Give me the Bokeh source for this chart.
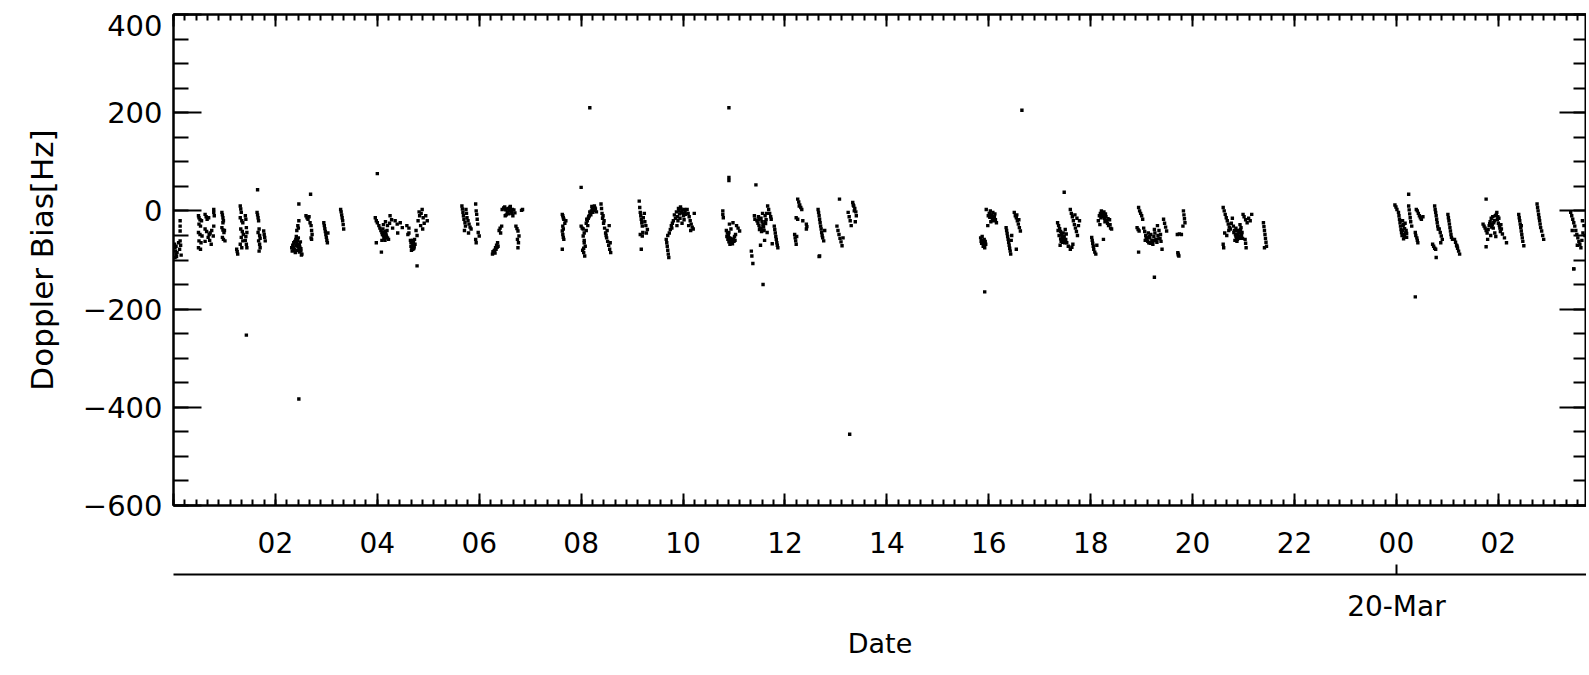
import numpy as np
from bokeh.plotting import figure
from bokeh.models import LinearAxis, FixedTicker, Range1d, ColumnDataSource
from bokeh.embed import file_html
from bokeh.resources import INLINE

# ---------------- data: hours since 19-Mar 00:00, Doppler bias [Hz] ----------------
a0_t = [0.02,0.03,0.04,0.05,0.06,0.03,0.05,0.07,0.13,0.13,0.13,0.13,0.14,0.12,0.15,0.10]
a0_v = [-68,-75,-82,-88,-93,-95,-72,-85,-20,-31,-41,-61,-70,-78,-90,-65]
a1_t = [0.49,0.50,0.52,0.55,0.50,0.53,0.49,0.52,0.56,0.50,0.54,0.49,0.53,
        0.62,0.64,0.66,0.69,0.62,0.65,0.70,0.72,0.68,0.71,0.74,0.62,0.75,
        0.79,0.79,0.80,0.79,0.78]
a1_v = [-10,-14,-18,-20,-27,-31,-44,-48,-51,-61,-65,-75,-78,
        -7,-12,-17,-14,-37,-42,-48,-45,-54,-60,-68,-62,-40,
        3,-3,-10,-31,-51]
a2_t = [0.95,0.96,0.97,0.98,0.95,0.97,0.99,1.00,0.96,0.98,1.01,0.97]
a2_v = [-3,-8,-14,-20,-34,-39,-44,-40,-54,-58,-61,-24]
a3_t = [1.31,1.32,1.33,1.31,1.34,1.36,1.32,1.35,1.37,1.33,1.36,1.31,1.34,1.24,1.25,1.26,
        1.41,1.42,1.43,1.44,1.42,1.41,1.43,1.44]
a3_v = [10,4,-3,-14,-20,-24,-37,-42,-48,-54,-61,-68,-75,-78,-83,-88,
        -10,-17,-34,-44,-52,-60,-68,-75]
a4_t = [1.64,1.65,1.66,1.67,1.68,1.66,1.69,1.70,1.67,1.69,1.70,1.68,1.77,1.78,1.79,1.80]
a4_v = [-3,-8,-14,-20,-37,-44,-50,-56,-61,-68,-75,-82,-41,-48,-54,-61]
a5_t = [2.32,2.34,2.36,2.38,2.40,2.42,2.44,2.46,2.48,2.50,2.52,2.35,2.39,2.43,2.47,2.51,2.37,
        2.41,2.45,2.49,2.42,2.44,2.46,2.45,2.60,2.62,2.64,2.66,2.68,2.70,2.71,2.72,2.70,2.71,
        2.33,2.36,2.40,2.43,2.47,2.50]
a5_v = [-75,-70,-65,-62,-58,-66,-72,-78,-74,-82,-88,-80,-85,-60,-68,-90,-78,
        -52,-55,-63,-40,-30,-20,-35,-10,-14,-17,-12,-24,-30,-40,-48,-55,-58,
        -82,-76,-70,-80,-84,-77]
a6_t = [2.95,2.96,2.97,2.98,2.99,3.00,3.01,3.02,3.03]
a6_v = [-24,-30,-36,-42,-48,-54,-60,-65,-45]
a7_t = [3.28,3.29,3.30,3.31,3.32,3.33,3.34]
a7_v = [3,-2,-8,-14,-20,-28,-37]
a8_t = [3.96,3.98,4.00,4.03,4.05,4.07,4.09,4.10,4.12,4.14,4.16,4.18,4.20,4.22,4.11,4.13,4.15,
        4.17,4.19,4.08,4.12,4.16,4.20,4.24,4.28,4.30,4.35,4.39,4.40,4.45,4.49,4.09,4.25,3.98,
        4.11,4.14,4.17,4.13]
a8_v = [-14,-20,-24,-30,-35,-40,-44,-48,-50,-46,-42,-52,-55,-58,-37,-54,-60,
        -48,-40,-84,-28,-22,-30,-25,-18,-35,-20,-27,-45,-24,-34,-60,-10,-65,
        -44,-57,-51,-47]
a9_t = [4.58,4.62,4.65,4.68,4.70,4.72,4.66,4.69,4.71,4.74,4.67,4.73,4.62,4.76,4.80,4.83,4.86,
        4.88,4.90,4.92,4.85,4.89,4.95,4.98,4.82,4.78,4.60,4.66,4.68,4.70,4.72,4.69,4.71]
a9_v = [-30,-45,-60,-65,-70,-75,-72,-78,-62,-68,-80,-58,-35,-40,-20,-10,-5,
        3,-14,-25,-30,-37,-10,-20,-2,-50,-48,-64,-74,-66,-72,-60,-77]
a10_t = [5.66,5.67,5.68,5.69,5.70,5.72,5.74,5.75,5.76,5.78,5.80,5.82,5.84,5.79,5.93,5.94,5.95,
         5.96,5.97,5.98,5.93,5.94,6.00,5.73,5.71]
a10_v = [10,4,-3,-10,-17,-24,3,-5,-14,-20,-27,-33,-37,-45,14,0,-7,
         -17,-27,-44,-58,-65,-51,-31,-40]

b1_t = [6.26,6.28,6.30,6.32,6.34,6.36,6.29,6.33,6.37,6.39,6.41,6.44,6.45,6.48,6.50,6.52,6.55,
        6.57,6.60,6.62,6.64,6.66,6.68,6.70,6.53,6.58,6.63,6.51,6.72,6.74,6.76,6.78,6.75,6.77,
        6.76,6.85,6.83,6.42,6.27,6.31,6.35,6.54,6.59,6.61,6.65]
b1_v = [-88,-85,-80,-75,-70,-65,-82,-78,-72,-40,-35,-31,3,6,8,2,-3,
        5,7,0,-5,-10,2,-4,-8,-6,-2,-10,-31,-36,-41,-51,-58,-65,
        -75,3,1,-45,-83,-86,-74,4,1,9,3]
b2_t = [7.63,7.64,7.65,7.66,7.64,7.65,7.63,7.64,7.65,7.66,7.70,7.68,7.63]
b2_v = [-7,-10,-14,-17,-31,-37,-41,-48,-54,-58,-20,-25,-78]
b3_t = [8.00,8.02,8.04,8.06,8.08,8.03,8.05,8.07,8.04,8.06,8.10,8.12,8.14,8.16,8.18,8.20,8.22,
        8.24,8.26,8.28,8.30,8.15,8.19,8.23,8.27,8.11,8.13,8.06,8.10,8.39,8.40,8.41,8.42,8.44,
        8.46,8.48,8.50,8.52,8.54,8.56,8.58,8.45,8.51,8.57,8.43,8.49,8.55,8.17,8.21,8.25,8.05]
b3_v = [-31,-35,-37,-65,-72,-80,-85,-92,-51,-45,-25,-20,-15,-10,-5,0,5,
        8,10,4,-2,-12,-8,-3,6,-17,-30,-60,-40,14,5,-5,-15,-25,
        -35,-45,-55,-62,-70,-78,-85,-20,-40,-65,-10,-50,-30,-2,9,1,-76]
b4_t = [9.14,9.15,9.16,9.17,9.18,9.19,9.20,9.21,9.16,9.20,9.22,9.25,9.27,9.30,9.28,9.24,9.18]
b4_v = [20,7,-3,-10,-17,-24,-31,-44,-48,-51,-14,-22,-30,-38,-45,-5,-78]
b5_t = [9.67,9.68,9.69,9.70,9.71,9.72,9.70,9.73,9.75,9.77,9.79,9.81,9.78,9.83,9.85,9.87,9.89,
        9.91,9.93,9.95,9.97,9.99,10.01,10.03,10.05,9.90,9.94,9.98,10.02,10.08,10.10,10.12,
        10.14,10.16,10.18,10.20,10.22,10.11,10.15,9.88,9.92,9.96,10.00,10.04]
b5_v = [-58,-65,-72,-80,-88,-95,-50,-45,-38,-30,-25,-20,-35,-8,-15,-2,-12,
        5,-6,8,-3,2,-10,3,-7,-20,-15,-25,-18,3,-5,-12,
        -20,-27,-33,-37,-5,-30,-40,-30,0,4,-5,-1]
b6_t = [10.78,10.78,10.79,10.85,10.87,10.89,10.91,10.93,10.95,10.97,10.99,11.01,11.03,10.88,
        10.92,10.96,11.00,10.90,10.98,11.05,11.08,11.11,10.91,10.94,10.86,10.90,10.94,10.97,11.02]
b6_v = [0,-7,-14,-40,-45,-50,-55,-60,-65,-62,-58,-52,-48,-58,
        -68,-66,-62,-44,-24,-30,-35,-41,-27,-37,-52,-63,-56,-67,-60]
b7_t = [11.34,11.35,11.37,11.40,11.41,11.45,11.47,11.49,11.51,11.53,11.55,11.57,11.59,11.61,
        11.63,11.65,11.50,11.54,11.58,11.62,11.48,11.56,11.64,11.66,11.68,11.70,11.72,11.73,
        11.79,11.80,11.81,11.82,11.83,11.84,11.85,11.86,11.60,11.75,11.52,11.49,11.53,11.57,
        11.61,11.55]
b7_v = [-82,-92,-107,-10,-17,-20,-25,-30,-35,-15,-22,-28,-40,-10,
        -18,-44,-38,-42,-33,-26,-12,-5,-5,10,3,-5,-12,-17,
        -31,-38,-45,-52,-58,-65,-70,-75,-60,-67,-70,-18,-36,-31,-22,-40]
b8_t = [12.25,12.27,12.29,12.31,12.33,12.28,12.22,12.25,12.42,12.43,12.42,12.19,12.20,12.21,
        12.22,12.23,12.35]
b8_v = [24,18,12,7,3,10,-14,-17,-27,-32,-37,-48,-55,-61,-68,-52,-20]
b9_t = [12.65,12.66,12.67,12.68,12.69,12.70,12.71,12.72,12.73,12.74,12.76,12.78,12.68]
b9_v = [3,-3,-10,-17,-24,-31,-37,-44,-50,-55,-61,-40,-92]
b10_t = [13.07,13.33,13.35,13.37,13.39,13.40,13.36,13.34,13.02,13.04,13.06,13.08,13.10,13.12,
         13.14,13.24,13.26,13.28,13.30,13.38]
b10_v = [24,17,10,5,-2,-10,0,12,-31,-40,-48,-56,-63,-71,-55,-3,-12,-20,-30,-22]

c1_t = [15.84,15.86,15.88,15.90,15.92,15.94,15.87,15.91,15.85,15.95,15.99,16.01,16.03,16.05,
        16.07,16.09,16.11,16.13,16.15,16.04,16.08,16.12,15.98,15.86,15.89,15.93,16.02,16.06,
        16.10]
c1_v = [-55,-60,-65,-70,-75,-68,-52,-58,-62,3,-10,-5,0,-8,
        -15,-20,-12,-18,-24,-22,-3,-6,-30,-66,-72,-62,-13,-11,-16]
c2_t = [16.34,16.35,16.36,16.37,16.38,16.39,16.40,16.41,16.42,16.43,16.44,16.50,16.52,16.54,
        16.56,16.58,16.60,16.62,16.55,16.59,16.54,16.45]
c2_v = [-34,-40,-46,-52,-58,-64,-70,-76,-82,-88,-60,-3,-10,-14,
        -20,-27,-34,-41,-8,-18,-78,-50]
c3_t = [17.35,17.37,17.39,17.41,17.43,17.45,17.47,17.49,17.51,17.38,17.42,17.46,17.50,17.53,
        17.56,17.60,17.63,17.65,17.60,17.62,17.64,17.66,17.68,17.70,17.72,17.74,17.76,17.78,
        17.69,17.73,17.40,17.44,17.36,17.41,17.45,17.48,17.52]
c3_v = [-24,-30,-36,-42,-48,-54,-60,-65,-58,-50,-62,-45,-38,-65,
        -72,-78,-74,-68,3,-5,-12,-20,-28,-35,-42,-50,-30,-20,
        -8,-15,-70,-55,-40,-57,-64,-52,-47]
c4_t = [18.02,18.03,18.04,18.05,18.06,18.08,18.10,18.12,18.15,18.17,18.19,18.21,18.23,18.25,
        18.27,18.29,18.31,18.33,18.35,18.37,18.39,18.41,18.20,18.24,18.28,18.25,18.18,18.22,
        18.26,18.30,18.34,18.38]
c4_v = [-54,-60,-66,-72,-78,-84,-88,-70,-20,-10,-5,0,-8,-12,
        -15,-6,-20,-25,-30,-18,-35,-37,-14,-4,-22,-58,-28,-9,-2,-12,-16,-28]
c5_t = [18.94,18.96,18.98,19.00,19.02,18.91,18.93,18.95,19.04,19.06,19.08,19.10,19.12,19.14,
        19.16,19.18,19.20,19.22,19.24,19.26,19.28,19.30,19.32,19.34,19.36,19.38,19.07,19.13,
        19.19,19.25,19.31,19.37,19.43,19.45,19.47,19.49,18.94,19.40,19.11,19.23,19.09,19.15,
        19.21,19.27,19.33,19.17]
c5_v = [7,0,-5,-10,-17,-34,-38,-41,-35,-42,-50,-58,-62,-65,
        -55,-48,-60,-68,-52,-45,-58,-64,-50,-40,-56,-62,-60,-45,
        -66,-38,-30,-48,-17,-25,-33,-41,-84,-78,-55,-60,-54,-52,-63,-61,-57,-66]
c6_t = [19.82,19.83,19.84,19.85,19.81,19.70,19.74,19.78,19.71,19.72,19.73,19.72]
c6_v = [0,-8,-16,-24,-31,-48,-47,-48,-85,-88,-92,-90]
c7_t = [20.60,20.62,20.64,20.66,20.68,20.70,20.72,20.74,20.76,20.78,20.63,20.67,20.71,20.80,
        20.82,20.84,20.86,20.88,20.90,20.92,20.94,20.96,20.98,20.83,20.87,20.91,20.95,20.99,
        21.01,21.04,21.07,21.10,21.13,21.16,20.60,20.61,21.03,21.04,21.05,20.85,20.93,20.81,
        20.85,20.89,20.93,20.97,20.88]
c7_v = [7,0,-7,-14,-20,-27,-33,-37,-25,-15,-45,-50,-40,-31,
        -40,-48,-55,-58,-52,-45,-38,-50,-56,-60,-62,-42,-34,-7,
        -12,-18,-24,-15,-20,-7,-68,-75,-58,-66,-75,-35,-28,-44,-51,-47,-56,-44,-40]
c8_t = [21.39,21.40,21.41,21.42,21.43,21.44,21.45,21.41]
c8_v = [-24,-32,-40,-48,-56,-64,-72,-75]

d1_t = [23.97,23.99,24.01,24.04,24.05,24.06,24.07,24.08,24.09,24.10,24.12,24.14,24.16,24.18,
        24.20,24.11,24.15,24.19,24.24,24.24,24.25,24.26,24.27,24.28,24.30,24.39,24.41,24.43,
        24.45,24.47,24.49,24.52,24.37,24.38,24.40,24.41,24.42,24.13,24.17,24.12,24.16,24.20,
        24.14]
d1_v = [12,8,3,-3,-10,-17,-24,-31,-38,-44,-20,-28,-36,-45,
        -54,-50,-48,-40,34,10,2,-6,-14,-22,-31,3,0,-5,
        -10,-14,-17,-12,-44,-50,-55,-60,-65,-30,-25,-40,-52,-46,-57]
d2_t = [24.75,24.76,24.77,24.78,24.79,24.80,24.81,24.82,24.71,24.73,24.75,24.77,24.78,24.84,
        24.86,24.88,24.90,24.87,25.01,25.02,25.03,25.04,25.05,25.06,25.07,25.08,25.10,25.14,
        25.16,25.18,25.20,25.22,25.24,25.19]
d2_v = [10,3,-3,-10,-17,-24,-31,-37,-68,-72,-76,-78,-95,-37,
        -44,-51,-58,-65,-7,-14,-20,-27,-34,-41,-48,-54,-58,-58,
        -64,-70,-76,-82,-88,-72]
d3_t = [25.76,25.70,25.72,25.74,25.76,25.78,25.80,25.82,25.84,25.86,25.88,25.90,25.92,25.94,
        25.96,25.98,26.00,26.02,26.04,26.06,26.08,25.85,25.89,25.93,25.97,26.01,26.05,25.76,
        26.16,26.12,25.79,25.95,25.83,25.87,25.91,25.99,26.03]
d3_v = [24,-27,-31,-35,-40,-45,-38,-30,-22,-15,-28,-35,-20,-10,
        -7,-18,-25,-30,-42,-37,-47,-50,-12,-45,-3,-15,-28,-73,
        -65,-55,-58,-52,-26,-33,-24,-12,-35]
d4_t = [26.40,26.41,26.42,26.43,26.44,26.45,26.46,26.47,26.48,26.50,26.45]
d4_v = [-7,-14,-20,-27,-34,-41,-48,-55,-62,-71,-30]
d5_t = [26.76,26.77,26.78,26.79,26.80,26.81,26.82,26.83,26.85,26.87,26.89]
d5_v = [14,7,0,-7,-14,-20,-27,-34,-41,-50,-58]
d6_t = [27.42,27.44,27.46,27.48,27.50,27.52,27.54,27.56,27.58,27.60,27.62,27.64,27.66,27.68,
        27.70,27.45,27.55,27.65,27.48]
d6_v = [-3,-10,-17,-24,-31,-40,-48,-55,-62,-68,-75,-60,-45,-30,-50,-40,-70,-20,-118]

outlier_t = [1.43,2.46,1.65,2.69,2.46,4.00,4.78,8.00,8.17,10.90,10.90,10.90,11.43,11.57,
             12.67,13.27,15.92,16.65,17.48,19.25,24.37,27.48]
outlier_v = [-253,-383,43,34,14,76,-112,48,210,210,68,62,53,-150,
             -93,-455,-165,205,38,-135,-175,-118]

# ---------------- axis ticks and labels ----------------
x_tick_hours = [0, 2, 4, 6, 8, 10, 12, 14, 16, 18, 20, 22, 24, 26]
x_tick_labels = ["", "02", "04", "06", "08", "10", "12", "14", "16", "18", "20", "22", "00", "02"]
x_minor_step = 2 / 9
y_tick_values = [-600, -400, -200, 0, 200, 400]
y_tick_labels = ["\u2212600", "\u2212400", "\u2212200", "0", "200", "400"]
y_minor_step = 50
top_label_nudge = 22      # the top y label sits slightly inside the frame, as in the original
date_tick_hours = [24]
date_tick_labels = ["20-Mar"]
x_min, x_max = 0.0, 27.73
y_min, y_max = -600, 400

clusters = [(a0_t, a0_v), (a1_t, a1_v), (a2_t, a2_v), (a3_t, a3_v), (a4_t, a4_v),
            (a5_t, a5_v), (a6_t, a6_v), (a7_t, a7_v), (a8_t, a8_v), (a9_t, a9_v),
            (a10_t, a10_v), (b1_t, b1_v), (b2_t, b2_v), (b3_t, b3_v), (b4_t, b4_v),
            (b5_t, b5_v), (b6_t, b6_v), (b7_t, b7_v), (b8_t, b8_v), (b9_t, b9_v),
            (b10_t, b10_v), (c1_t, c1_v), (c2_t, c2_v), (c3_t, c3_v), (c4_t, c4_v),
            (c5_t, c5_v), (c6_t, c6_v), (c7_t, c7_v), (c8_t, c8_v), (d1_t, d1_v),
            (d2_t, d2_v), (d3_t, d3_v), (d4_t, d4_v), (d5_t, d5_v), (d6_t, d6_v),
            (outlier_t, outlier_v)]
hours, bias = [], []
for t, v in clusters:
    n = min(len(t), len(v))
    hours += t[:n]
    bias += v[:n]

source = ColumnDataSource(data=dict(hours=hours, bias=bias))

FONT = "DejaVu Sans"

p = figure(width=1586, height=661, output_backend="svg", toolbar_location=None,
           x_range=Range1d(x_min, x_max), y_range=Range1d(y_min, y_max),
           x_axis_type=None, y_axis_type=None,
           min_border_left=173, min_border_right=0, min_border_top=14, min_border_bottom=0)
p.grid.visible = False
p.outline_line_color = "black"
p.outline_line_width = 2
p.background_fill_color = "white"
p.border_fill_color = "white"

x_minor = [k * x_minor_step for k in range(int(x_max / x_minor_step) + 1)]
y_minor = list(range(y_min, y_max + 1, y_minor_step))


def style(ax, maj_in, min_in, label_size="28px", standoff=0):
    ax.major_tick_in = maj_in
    ax.major_tick_out = 0
    ax.minor_tick_in = min_in
    ax.minor_tick_out = 0
    ax.axis_line_color = "black"
    ax.axis_line_width = 2
    ax.major_tick_line_color = "black"
    ax.major_tick_line_width = 2
    ax.minor_tick_line_color = "black"
    ax.minor_tick_line_width = 2
    ax.major_label_text_font = FONT
    ax.major_label_text_font_size = label_size
    ax.major_label_text_color = "black"
    ax.major_label_standoff = standoff
    ax.axis_label_text_font = FONT
    ax.axis_label_text_font_style = "normal"
    ax.axis_label_text_color = "black"


# bottom hour axis
xb = LinearAxis(ticker=FixedTicker(ticks=x_tick_hours, minor_ticks=x_minor),
                major_label_overrides={h: s for h, s in zip(x_tick_hours, x_tick_labels)})
style(xb, 12, 6, "28px", 26)
xb.axis_label = " "
xb.axis_label_text_font_size = "12px"
xb.axis_label_standoff = 2
p.add_layout(xb, "below")

# second bottom axis with the date
xd = LinearAxis(ticker=FixedTicker(ticks=date_tick_hours, minor_ticks=[]),
                major_label_overrides={h: s for h, s in zip(date_tick_hours, date_tick_labels)},
                axis_label="Date")
style(xd, 10, 0, "28px", 15)
xd.axis_label_text_font_size = "27px"
xd.axis_label_standoff = 2
p.add_layout(xd, "below")

# top axis (ticks only)
xt = LinearAxis(ticker=FixedTicker(ticks=x_tick_hours, minor_ticks=x_minor),
                major_label_overrides={h: "" for h in x_tick_hours})
style(xt, 12, 6, "0px", 0)
p.add_layout(xt, "above")

# left axis: tick marks only (next to the frame)
yl_ticks = LinearAxis(ticker=FixedTicker(ticks=y_tick_values, minor_ticks=y_minor),
                      major_label_overrides={v: "" for v in y_tick_values})
style(yl_ticks, 28, 15, "0px", 0)
p.add_layout(yl_ticks, "left")

# left axis: tick labels and title (no line, no tick marks)
label_pos = [v if v != y_max else v - top_label_nudge for v in y_tick_values]
yl = LinearAxis(ticker=FixedTicker(ticks=label_pos, minor_ticks=[]),
                major_label_overrides={pos: s for pos, s in zip(label_pos, y_tick_labels)},
                axis_label="Doppler Bias[Hz]")
style(yl, 0, 0, "29px", 11)
yl.axis_line_color = None
yl.major_tick_line_color = None
yl.minor_tick_line_color = None
yl.axis_label_text_font_size = "31px"
yl.axis_label_standoff = 20
p.add_layout(yl, "left")

# right axis (ticks only)
yr = LinearAxis(ticker=FixedTicker(ticks=y_tick_values, minor_ticks=y_minor),
                major_label_overrides={v: "" for v in y_tick_values})
style(yr, 27, 13, "0px", 0)
p.add_layout(yr, "right")

p.scatter("hours", "bias", source=source, marker="square", size=3.4,
          color="black", line_width=0)

open("out.html", "w").write(file_html(p, INLINE))
